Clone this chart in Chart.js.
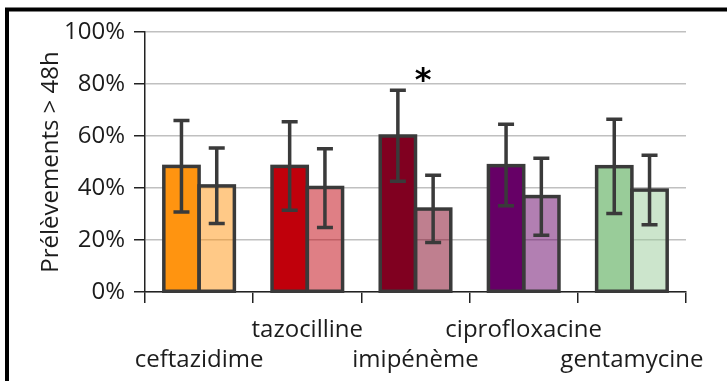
<!DOCTYPE html>
<html>
<head>
<meta charset="utf-8">
<script src="https://cdn.jsdelivr.net/npm/chart.js@4/dist/chart.umd.min.js"></script>
<style>
  html, body { margin: 0; padding: 0; background: #fff; }
  #wrap { width: 727px; height: 381px; position: relative; }
</style>
</head>
<body>
<div id="wrap"><canvas id="c" width="727" height="381"></canvas></div>
<script>
// Antibiotics compared
const categories = ['ceftazidime', 'tazocilline', 'imipénème', 'ciprofloxacine', 'gentamycine'];

// Share of samples taken after 48h (%), two groups per antibiotic
const groupA = [48.3, 48.3, 60.0, 48.6, 48.2];
const groupB = [40.8, 40.2, 31.9, 36.7, 39.2];

// Confidence interval bounds (%)
const groupALow  = [30.8, 31.4, 42.6, 33.2, 30.2];
const groupAHigh = [66.0, 65.5, 77.6, 64.5, 66.4];
const groupBLow  = [26.3, 24.8, 19.0, 21.8, 25.9];
const groupBHigh = [55.4, 55.1, 44.9, 51.4, 52.6];

// Y axis ticks
const yTicks = [0, 20, 40, 60, 80, 100];

// Significant difference marker
const significant = [false, false, true, false, false];

const darkColors  = ['#FF9410', '#C0000B', '#800020', '#660066', '#99CC99'];
const lightColors = ['rgba(255,148,16,0.5)', 'rgba(192,0,11,0.5)', 'rgba(128,0,32,0.5)', 'rgba(102,0,102,0.5)', 'rgba(153,204,153,0.5)'];

const FONT = "'Open Sans', 'DejaVu Sans', sans-serif";
const INK = '#1c1c1c';
const EDGE = '#3a3a3a';
const BORDER_W = 3.5;

// Staggered category labels: alternate between upper and lower line
const xLabels = categories.map((c, i) => (i % 2 === 0 ? ['', c] : [c, '']));

// Outlines centred on the bar edges, then the error bars and the asterisk
const overlay = {
  id: 'overlay',
  afterDatasetsDraw(chart) {
    const ctx = chart.ctx;
    const y = chart.scales.y;
    ctx.save();
    ctx.strokeStyle = EDGE;
    ctx.lineJoin = 'miter';
    ctx.lineWidth = BORDER_W;
    [0, 1].forEach((d) => {
      chart.getDatasetMeta(d).data.forEach((bar) => {
        const p = bar.getProps(['x', 'y', 'base', 'width'], true);
        ctx.strokeRect(p.x - p.width / 2, p.y, p.width, p.base - p.y);
      });
    });

    const bounds = [[groupALow, groupAHigh], [groupBLow, groupBHigh]];
    ctx.lineWidth = 3.5;
    ctx.lineCap = 'butt';
    bounds.forEach(([lo, hi], d) => {
      chart.getDatasetMeta(d).data.forEach((bar, i) => {
        const yl = y.getPixelForValue(lo[i]);
        const yh = y.getPixelForValue(hi[i]);
        const half = 8;
        ctx.beginPath();
        ctx.moveTo(bar.x, yl); ctx.lineTo(bar.x, yh);
        ctx.moveTo(bar.x - half, yh); ctx.lineTo(bar.x + half, yh);
        ctx.moveTo(bar.x - half, yl); ctx.lineTo(bar.x + half, yl);
        ctx.stroke();
      });
    });

    const x = chart.scales.x;
    ctx.fillStyle = '#000';
    ctx.font = "bold 32px 'DejaVu Sans', sans-serif";
    ctx.textAlign = 'center';
    ctx.textBaseline = 'middle';
    significant.forEach((s, i) => {
      if (!s) return;
      const cx = x.getPixelForValue(i) + x.width / categories.length * 0.07;
      ctx.fillText('*', cx, y.getPixelForValue(81));
    });
    ctx.restore();
  }
};

const frame = {
  id: 'frame',
  afterDraw(chart) {
    const ctx = chart.ctx;
    ctx.save();
    ctx.strokeStyle = '#000';
    ctx.lineWidth = 4;
    ctx.beginPath();
    ctx.moveTo(7, 390); ctx.lineTo(7, 9.5); ctx.lineTo(740, 9.5);
    ctx.stroke();
    ctx.restore();
  }
};

new Chart(document.getElementById('c'), {
  type: 'bar',
  data: {
    labels: xLabels,
    datasets: [
      { label: 'A', data: groupA, backgroundColor: darkColors, borderWidth: 0 },
      { label: 'B', data: groupB, backgroundColor: lightColors, borderWidth: 0 }
    ]
  },
  options: {
    responsive: false,
    animation: false,
    events: [],
    layout: { padding: { top: 32, right: 41, left: 0, bottom: 0 } },
    datasets: { bar: { categoryPercentage: 0.652, barPercentage: 1.0, inflateAmount: 0 } },
    plugins: { legend: { display: false }, tooltip: { enabled: false } },
    scales: {
      x: {
        offset: true,
        grid: {
          offset: true,
          drawOnChartArea: true,
          color: (c) => (c.index === categories.length ? '#222' : 'rgba(0,0,0,0)'),
          lineWidth: 1.5,
          tickColor: '#222',
          tickLength: 11
        },
        border: { display: true, color: '#222', width: 1.5 },
        ticks: {
          color: INK,
          font: { family: FONT, size: 24, lineHeight: 1.25 },
          padding: 12,
          maxRotation: 0,
          autoSkip: false
        },
        afterFit(scale) { scale.height = 89; }
      },
      y: {
        min: 0,
        max: 100,
        afterBuildTicks(scale) { scale.ticks = yTicks.map(v => ({ value: v })); },
        grid: { color: '#c0c0c0', lineWidth: 1.5, tickColor: '#222', tickLength: 11 },
        border: { display: true, color: '#222', width: 1.5 },
        ticks: {
          color: INK,
          font: { family: FONT, size: 24 },
          padding: 9,
          callback: (v) => v + '%'
        },
        title: {
          display: true,
          text: 'Prélèvements > 48h',
          color: INK,
          font: { family: FONT, size: 24 },
          padding: { top: 37, bottom: 0 }
        },
        afterFit(scale) { scale.width = 145; }
      }
    }
  },
  plugins: [overlay, frame]
});
</script>
</body>
</html>
